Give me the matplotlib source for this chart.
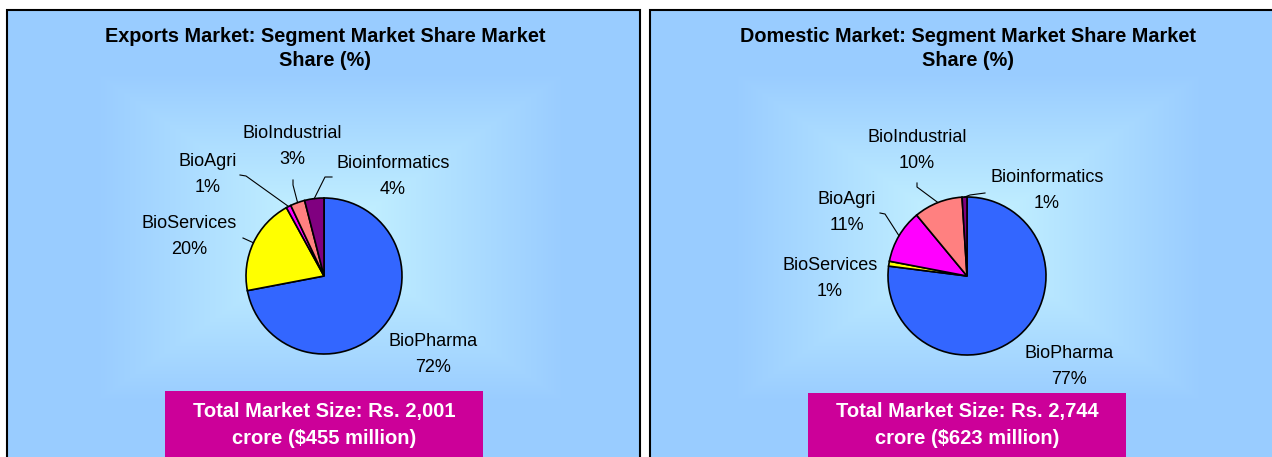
import numpy as np
import matplotlib
matplotlib.use("Agg")
import matplotlib.pyplot as plt
from matplotlib.patches import Rectangle

plt.rcParams['font.family'] = ['Liberation Sans', 'DejaVu Sans']

# data
segments = ['BioPharma', 'BioServices', 'BioAgri', 'BioIndustrial', 'Bioinformatics']
exports_share = [72, 20, 1, 3, 4]
domestic_share = [77, 1, 11, 10, 1]
colors = ['#3366FF', '#FFFF00', '#FF00FF', '#FF8080', '#800080']

titles = ['Exports Market: Segment Market Share Market\nShare (%)',
          'Domestic Market: Segment Market Share Market\nShare (%)']
totals = ['Total Market Size: Rs. 2,001\ncrore ($455 million)',
          'Total Market Size: Rs. 2,744\ncrore ($623 million)']

W, H = 1272, 457
fig = plt.figure(figsize=(W / 100, H / 100), dpi=100)
ax = fig.add_axes([0, 0, 1, 1])
ax.set_axis_off()

def Y(y):
    # pixel row (top-down) -> data y
    return H - y

c_center = np.array([200, 245, 255]) / 255
c_edge = np.array([153, 204, 255]) / 255

# layout per panel (pixels)
panels = [
    dict(x0=7, x1=640, cx=324, cy=276, r=78, gx=330, gy=237, tx=325,
         box=(165, 391, 483),
         labels={'BioPharma': (433, 354), 'BioServices': (189, 236),
                 'BioAgri': (208, 174), 'BioIndustrial': (292, 147),
                 'Bioinformatics': (393, 176)},
         leaders={'BioServices': [(243, 238)],
                  'BioAgri': [(240, 175), (246, 176)],
                  'BioIndustrial': [(293, 180), (293, 185)],
                  'Bioinformatics': [(332, 177), (325, 177)]}),
    dict(x0=650, x1=1290, cx=967, cy=276, r=79, gx=968, gy=237, tx=968,
         box=(808, 393, 1126),
         labels={'BioPharma': (1069, 366), 'BioServices': (830, 278),
                 'BioAgri': (847, 212), 'BioIndustrial': (917, 150),
                 'Bioinformatics': (1047, 191)},
         leaders={'BioAgri': [(880, 213), (885, 214)],
                  'BioIndustrial': [(917, 183), (917, 187)],
                  'Bioinformatics': [(985, 193), (970, 195)]}),
]

for p, vals, title, total in zip(panels, [exports_share, domestic_share], titles, totals):
    # gradient background
    xs = np.arange(p['x0'], p['x1'])
    ys = np.arange(10, H + 5)
    XX, YY = np.meshgrid(xs, ys)
    t = np.maximum(np.abs(XX - p['gx']) / 235, np.abs(YY - p['gy']) / 165)
    t = np.clip(t, 0, 1)[..., None]
    img = c_center * (1 - t) + c_edge * t
    ax.imshow(img, extent=(p['x0'], p['x1'], Y(H + 5), Y(10)), aspect='auto', zorder=0)
    ax.add_patch(Rectangle((p['x0'], Y(H + 10)), p['x1'] - p['x0'], H, fill=False,
                           edgecolor='black', lw=1.5, zorder=1))

    # title
    for i, line in enumerate(title.split('\n')):
        ax.text(p['tx'], Y(37 + 24 * i), line, ha='center', va='center',
                fontsize=14.3, fontweight='bold', zorder=3)

    wedges, _ = ax.pie(vals, colors=colors, startangle=90, counterclock=False,
                       center=(p['cx'], Y(p['cy'])), radius=p['r'],
                       wedgeprops=dict(edgecolor='black', linewidth=1.2))
    for w in wedges:
        w.set_zorder(2)

    for name, val, w in zip(segments, vals, wedges):
        lx, ly = p['labels'][name]
        ax.text(lx, Y(ly - 13), name, ha='center', va='center', fontsize=13, zorder=3)
        ax.text(lx, Y(ly + 13), f'{val}%', ha='center', va='center', fontsize=13, zorder=3)
        if name in p['leaders']:
            mid = np.deg2rad((w.theta1 + w.theta2) / 2)
            ex = p['cx'] + p['r'] * np.cos(mid)
            ey = Y(p['cy']) + p['r'] * np.sin(mid)
            pts = p['leaders'][name]
            px = [q[0] for q in pts] + [ex]
            py = [Y(q[1]) for q in pts] + [ey]
            ax.plot(px, py, color='black', lw=0.8, zorder=3)

    # total box
    bx0, by0, bx1 = p['box']
    ax.add_patch(Rectangle((bx0, Y(H + 5)), bx1 - bx0, H + 5 - by0,
                           facecolor='#CC0099', edgecolor='none', zorder=3))
    for i, line in enumerate(total.split('\n')):
        ax.text((bx0 + bx1) / 2, Y(412 + 26 * i), line, ha='center', va='center',
                color='white', fontsize=14.5, fontweight='bold', zorder=4)

ax.set_aspect('auto')
ax.set_xlim(0, W)
ax.set_ylim(0, H)
fig.savefig('out.png', dpi=100, facecolor='white')
